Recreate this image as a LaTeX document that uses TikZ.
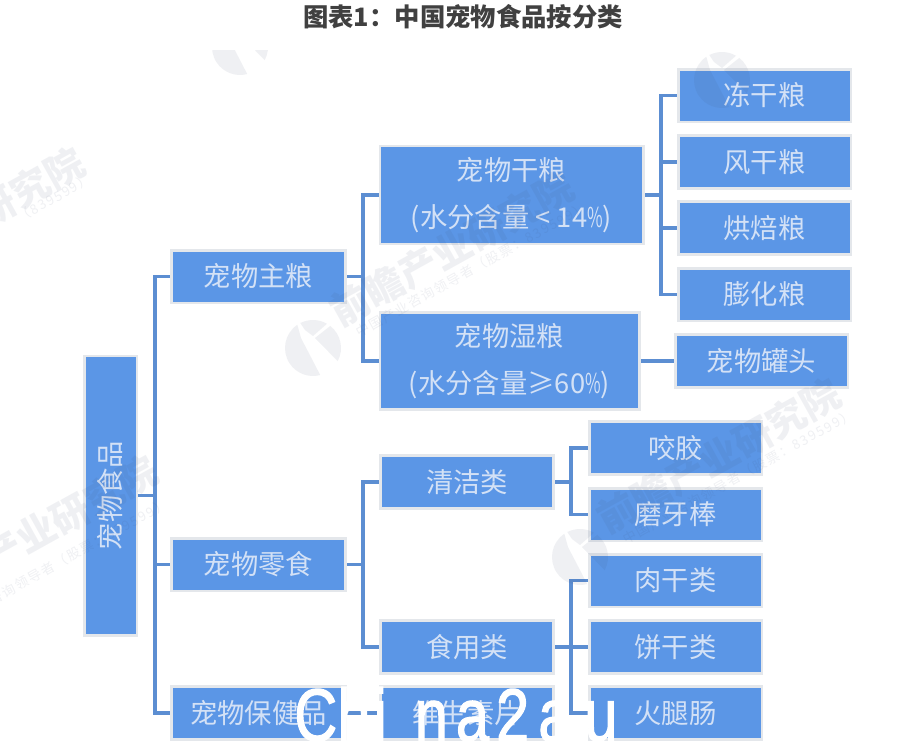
\documentclass[tikz,border=0pt]{standalone}
\usepackage{fontspec}
\usetikzlibrary{backgrounds}
\setmainfont{Noto Sans CJK SC}
\newfontfamily\latinwm[FakeBold=1.6]{Liberation Sans}
\definecolor{boxfill}{HTML}{5B96E6}
\definecolor{boxedge}{HTML}{E4E7EB}
\definecolor{boxtext}{HTML}{D3E1F6}
\definecolor{linecol}{HTML}{5C8ED2}
\definecolor{titlecol}{HTML}{404040}
\definecolor{wmcol}{HTML}{3C4A6E}
\tikzset{
  catbox/.style={draw=boxedge,fill=boxfill,line width=2pt,inner sep=0pt,text=boxtext,align=center,font=\fontsize{20.5}{35}\selectfont},
  wide/.style={minimum width=130.5pt,minimum height=39.5pt},
  leaf/.style={minimum width=129.5pt,minimum height=39.5pt},
  conn/.style={draw=linecol,line width=2.4pt},
  wm/.style={text=wmcol,text opacity=0.08,rotate=29,font=\fontsize{29}{29}\selectfont\bfseries,inner sep=0pt},
  wmsub/.style={text=wmcol,text opacity=0.08,rotate=29,font=\fontsize{10}{10}\selectfont\addfontfeature{LetterSpace=12},inner sep=0pt},
  wmshape/.style={fill=wmcol,fill opacity=0.08,draw=none},
}
\newcommand\wmmark[2]{%
  \begin{scope}[shift={(#1,#2)}]
    \fill[wmshape] (236:28) arc[start angle=236,end angle=75,radius=28] -- (-12,-10) -- cycle;
    \fill[wmshape] (243:28) arc[start angle=243,end angle=300,radius=28] -- (0,-12) -- (-8,-18) -- cycle;
    \fill[wmshape] (308:28) arc[start angle=308,end angle=388,radius=28] -- (2,-10) -- cycle;
  \end{scope}}
\begin{document}
\begin{tikzpicture}[x=0.75pt,y=-0.75pt]
\useasboundingbox (0,0) rectangle (908,746);
\clip (0,0) rectangle (908,746);
% boxes
\node[catbox,rotate=90,minimum width=209.5pt,minimum height=39.5pt] (root) at (110.5,495.5) {宠物食品};
\node[catbox,wide] (zl) at (258.5,276.5) {宠物主粮};
\node[catbox,wide] (ls) at (258.5,564.5) {宠物零食};
\node[catbox,wide] (bj) at (258.5,713) {宠物保健品};
\node[catbox,minimum width=197.5pt,minimum height=73.5pt] (gl) at (511.5,195) {宠物干粮\\(水分含量 < 14\scalebox{0.62}[1]{\%})};
\node[catbox,minimum width=194.5pt,minimum height=72.5pt] (sl) at (509.5,361) {宠物湿粮\\(水分含量≥60\scalebox{0.62}[1]{\%})};
\node[catbox,leaf] (a1) at (764.5,95.5) {冻干粮};
\node[catbox,leaf] (a2) at (764.5,162) {风干粮};
\node[catbox,leaf] (a3) at (764.5,228) {烘焙粮};
\node[catbox,leaf] (a4) at (764.5,294.5) {膨化粮};
\node[catbox,leaf] (gt) at (761.5,361) {宠物罐头};
\node[catbox,leaf] (qj) at (467,482) {清洁类};
\node[catbox,leaf] (sy) at (467,647) {食用类};
\node[catbox,leaf] (ws) at (467,713) {维生素片};
\node[catbox,leaf] (b1) at (675.5,448) {咬胶};
\node[catbox,leaf] (b2) at (675.5,514.5) {磨牙棒};
\node[catbox,leaf] (c1) at (675.5,580.5) {肉干类};
\node[catbox,leaf] (c2) at (675.5,647) {饼干类};
\node[catbox,leaf] (c3) at (675.5,713) {火腿肠};
% bus coordinates
\coordinate (busA) at (155,0);
\coordinate (busB) at (363,0);
\coordinate (busC) at (661,0);
\coordinate (busD) at (571,0);
% connectors behind the boxes
\begin{scope}[on background layer]
\fill[white] (0,0) rectangle (908,746);
\draw[conn] (root.south) -- (root.south -| busA);
\draw[conn] (root.south -| busA) |- (zl.west);
\draw[conn] (root.south -| busA) |- (ls.west);
\draw[conn] (root.south -| busA) |- (bj.west);
\draw[conn] (zl.east) -- (zl.east -| busB);
\draw[conn] (zl.east -| busB) |- (gl.west);
\draw[conn] (zl.east -| busB) |- (sl.west);
\draw[conn] (gl.east) -- (gl.east -| busC);
\draw[conn] (gl.east -| busC) |- (a1.west);
\draw[conn] (gl.east -| busC) |- (a2.west);
\draw[conn] (gl.east -| busC) |- (a3.west);
\draw[conn] (gl.east -| busC) |- (a4.west);
\draw[conn] (sl.east) -- (gt.west);
\draw[conn] (ls.east) -- (ls.east -| busB);
\draw[conn] (ls.east -| busB) |- (qj.west);
\draw[conn] (ls.east -| busB) |- (sy.west);
\draw[conn] (qj.east) -- (qj.east -| busD);
\draw[conn] (qj.east -| busD) |- (b1.west);
\draw[conn] (qj.east -| busD) |- (b2.west);
\draw[conn] (sy.east) -- (sy.east -| busD);
\draw[conn] (sy.east -| busD) |- (c1.west);
\draw[conn] (sy.east -| busD) |- (c2.west);
\draw[conn] (sy.east -| busD) |- (c3.west);
\draw[conn] (bj.east) -- (ws.west);
\end{scope}
% watermarks, over the boxes, cut above the title band
\begin{scope}
\clip (0,50) rectangle (908,746);
\wmmark{240}{47}
\wmmark{722}{80}
\wmmark{313}{348}
\wmmark{580}{557}
\node[wm] (w1) at (30,187) {研究院};
\node[wmsub] (s1) at (54,198) {（839599）};
\node[wm] (w2) at (452,249) {前瞻产业研究院};
\node[wmsub] (s2) at (471,270) {中国产业咨询领导者（股票：839599）};
\node[wm] (w3) at (719,456) {前瞻产业研究院};
\node[wmsub] (s3) at (738,477) {中国产业咨询领导者（股票：839599）};
\node[wm] (w4) at (70,514) {产业研究院};
\node[wmsub] (s4) at (78,552) {咨询领导者（股票：839599）};
\end{scope}
% title
\node[text=titlecol,font=\fontsize{19}{19}\selectfont\bfseries,inner sep=0pt] (title) at (463,17) {图表1：中国宠物食品按分类};
% overlay text
\node[text=white,inner sep=0pt,anchor=base west,xscale=0.8,font=\latinwm\fontsize{56}{56}\selectfont] (ch) at (294,741) {Ch\kern3pt i\kern26pt n\kern7.5pt a\kern6.5pt 2\kern8.5pt a\kern12pt u};
\end{tikzpicture}
\end{document}
